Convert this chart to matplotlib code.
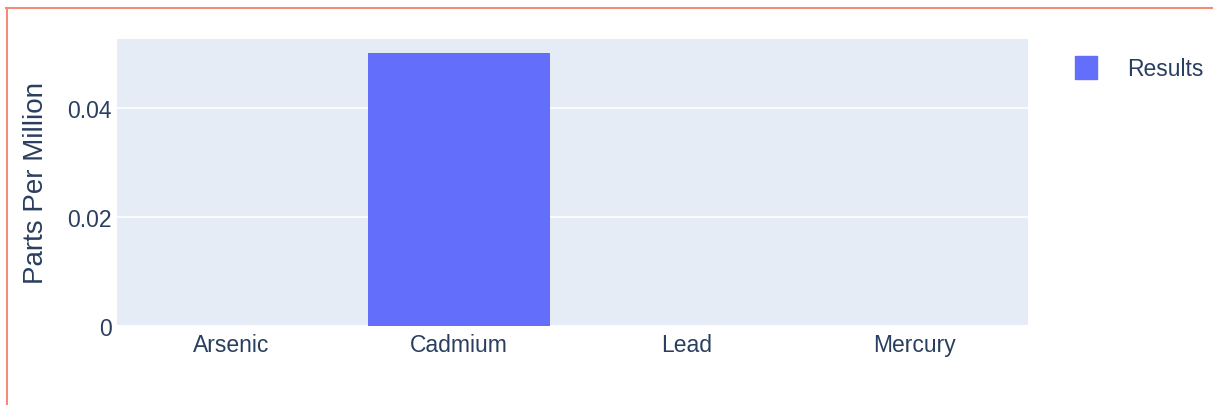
import matplotlib.pyplot as plt
from matplotlib.lines import Line2D
from matplotlib.patches import Rectangle

# data
metals = ["Arsenic", "Cadmium", "Lead", "Mercury"]
results = [0.0, 0.05, 0.0, 0.0]
yticks = [0, 0.02, 0.04]
ytick_labels = ["0", "0.02", "0.04"]

W, H = 1213, 406
TXT = "#2a3f5f"
plt.rcParams["font.family"] = ["Liberation Sans", "DejaVu Sans"]

fig = plt.figure(figsize=(W / 100, H / 100), dpi=100)

# plot area in pixels: left 117, right 1028, top 40, bottom 327
l, r, t, b = 117, 1028, 40, 327
ax = fig.add_axes([l / W, 1 - b / H, (r - l) / W, (b - t) / H])
ax.set_facecolor("#e5ecf6")
ax.bar(range(len(metals)), results, width=0.8, color="#636efa", zorder=3)
ax.set_xlim(-0.5, len(metals) - 0.5)
ax.set_ylim(0, 0.05266)
ax.set_yticks(yticks)
ax.set_yticklabels(ytick_labels)
ax.set_xticks(range(len(metals)))
ax.set_xticklabels(metals)
ax.grid(axis="y", color="white", lw=1.2, zorder=1)
ax.axhline(0, color="white", lw=2, zorder=2)
for s in ax.spines.values():
    s.set_visible(False)
ax.tick_params(length=0, labelsize=16.5, colors=TXT)
ax.tick_params(axis="y", pad=4)
ax.tick_params(axis="x", pad=5)
ax.set_ylabel("Parts Per Million", fontsize=20, color=TXT, labelpad=13)

# legend drawn by hand
fig.add_artist(Rectangle((1075 / W, 1 - 80 / H), 22 / W, 23 / H,
                         transform=fig.transFigure, color="#636efa"))
fig.text(1127 / W, 1 - 70 / H, "Results", fontsize=16.5, color=TXT,
         va="center", ha="left")

# outer salmon border (top and left)
border = "#f08c78"
fig.add_artist(Line2D([6 / W, 1], [1 - 9 / H, 1 - 9 / H], color=border,
                      lw=1.5, transform=fig.transFigure))
fig.add_artist(Line2D([7 / W, 7 / W], [0, 1 - 9 / H], color=border,
                      lw=1.5, transform=fig.transFigure))

fig.savefig("out.png", dpi=100)
